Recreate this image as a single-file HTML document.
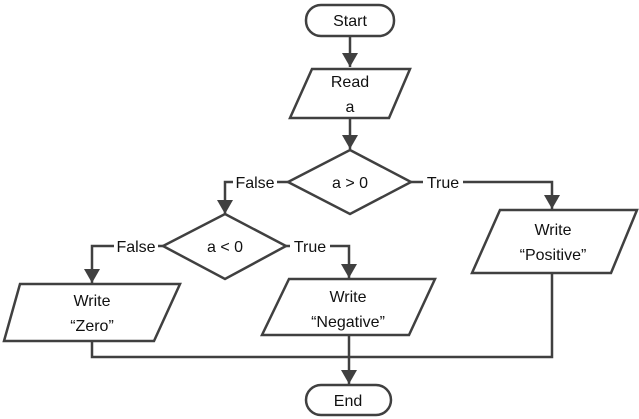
<!DOCTYPE html>
<html><head><style>body{margin:0;background:#fff}svg{display:block}text{font-family:"Liberation Sans",sans-serif;font-size:16px;fill:#111;text-anchor:middle}</style></head><body>
<svg width="639" height="419" viewBox="0 0 639 419">
<defs>
<marker id="b" markerWidth="14" markerHeight="16" refX="14" refY="8" orient="auto" markerUnits="userSpaceOnUse"><path d="M0,0 L14,8 L0,16 z" fill="#404040"/></marker></defs>
<g stroke="#404040" stroke-width="2.5" fill="none">
<rect x="306" y="5" width="88" height="31" rx="15"/>
<path d="M350 36 V67" marker-end="url(#b)"/>
<polygon points="312,69 410,69 389,118 290,118"/>
<path d="M350 118 V149" marker-end="url(#b)"/>
<polygon points="350,150 411,182 350,214 288,182"/>
<path d="M288 182 H225 V214" marker-end="url(#b)"/>
<path d="M411 182 H552 V209" marker-end="url(#b)"/>
<polygon points="225,214 286,246 225,279 163,246"/>
<path d="M163 246 H92 V283" marker-end="url(#b)"/>
<path d="M286 246 H349 V278" marker-end="url(#b)"/>
<polygon points="500,210 637,210 611,273 472,273"/>
<polygon points="289,279 435,279 409,335 262,335"/>
<polygon points="20,284 180,284 154,341 4,341"/>
<path d="M92 341 V357 H552 V273"/>
<path d="M349 335 V384" marker-end="url(#b)"/>
<rect x="306" y="385" width="85" height="30" rx="15"/>
</g>
<rect x="233" y="172" width="44" height="18" fill="#fff"/>
<rect x="423" y="172" width="40" height="18" fill="#fff"/>
<rect x="114" y="236" width="44" height="18" fill="#fff"/>
<rect x="290" y="236" width="40" height="18" fill="#fff"/>
<text x="350" y="26">Start</text>
<text x="350" y="87">Read</text>
<text x="350" y="112">a</text>
<text x="350" y="188">a &gt; 0</text>
<text x="255" y="188">False</text>
<text x="443" y="188">True</text>
<text x="225" y="252">a &lt; 0</text>
<text x="136" y="252">False</text>
<text x="310" y="252">True</text>
<text x="553" y="235">Write</text>
<text x="553" y="260">“Positive”</text>
<text x="348" y="302">Write</text>
<text x="348" y="327">“Negative”</text>
<text x="92" y="306">Write</text>
<text x="92" y="331">“Zero”</text>
<text x="348" y="406">End</text>
</svg></body></html>
